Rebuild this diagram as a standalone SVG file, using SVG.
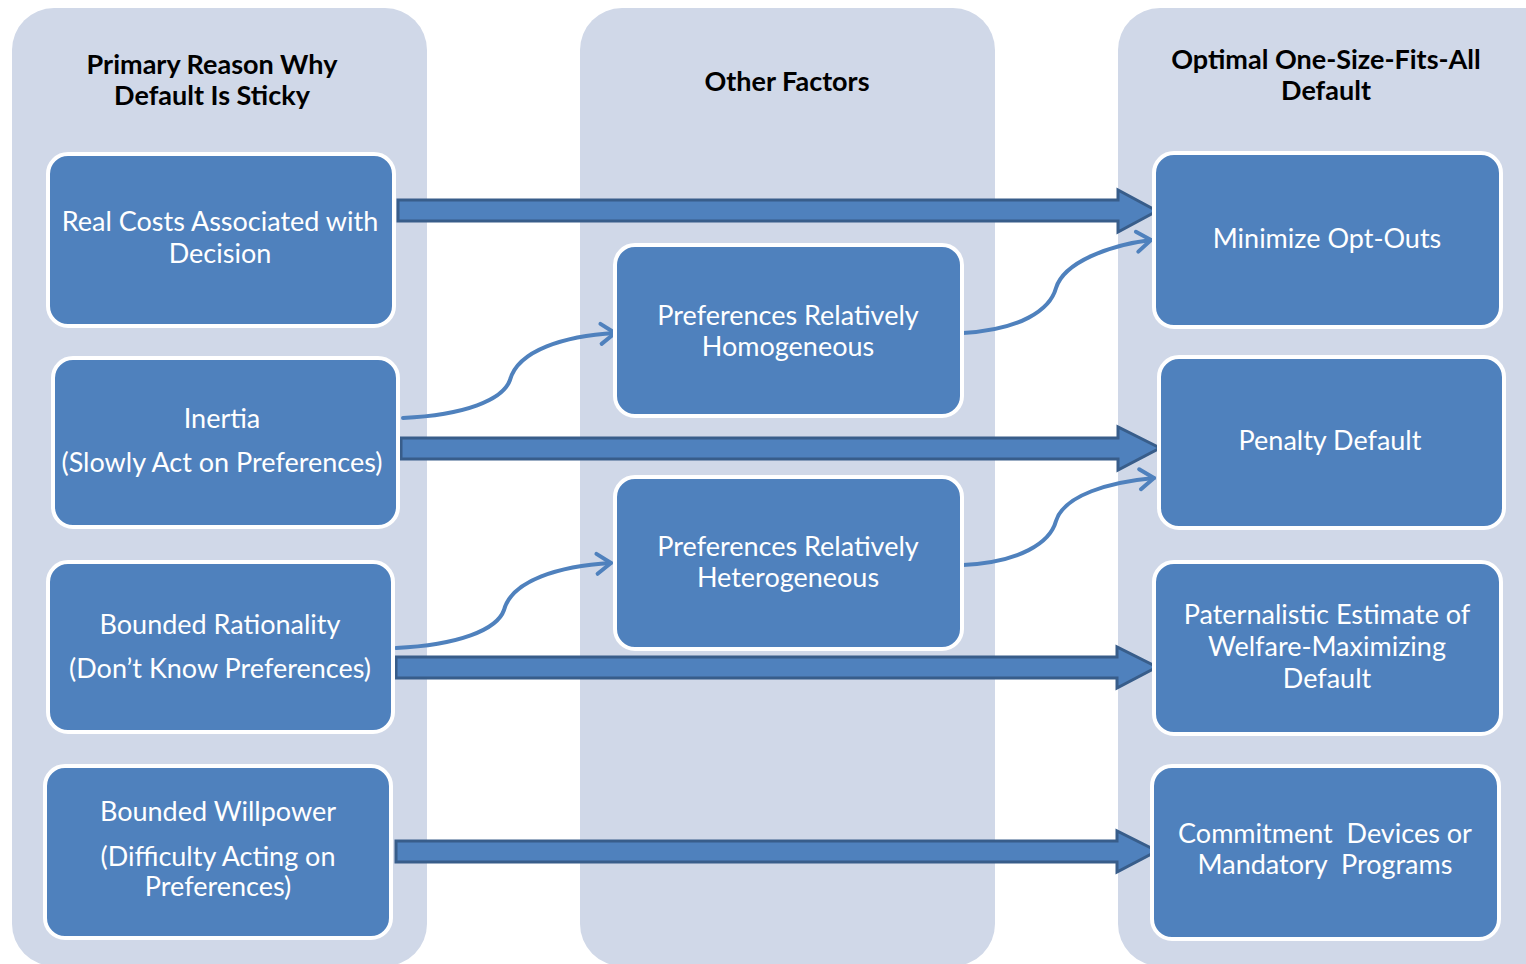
<svg xmlns="http://www.w3.org/2000/svg" width="1526" height="964" viewBox="0 0 1526 964">
<defs>
<style>
.col{fill:#D0D8E8;}
.box{fill:#4F81BD;stroke:#FFFFFF;stroke-width:4;}
.hdr{font-family:Lato,"Open Sans",sans-serif;font-weight:bold;font-size:27px;fill:#000;text-anchor:middle;}
.t{font-family:Lato,"Open Sans",sans-serif;font-size:27px;fill:#FFFFFF;text-anchor:middle;white-space:pre;}
.big{fill:#4F81BD;stroke:#385D8A;stroke-width:3;stroke-linejoin:miter;}
.cur{fill:none;stroke:#4F81BD;stroke-width:4;stroke-linecap:round;}
</style>
<marker id="chev" markerUnits="userSpaceOnUse" markerWidth="24" markerHeight="28" refX="18" refY="13" orient="auto" viewBox="0 0 24 26">
<path d="M4,3 L18,13 L4,23" fill="none" stroke="#4F81BD" stroke-width="4" stroke-linecap="round" stroke-linejoin="round"/>
</marker>
</defs>
<rect width="1526" height="964" fill="#FFFFFF"/>
<g id="columns">
<rect class="col" x="12" y="8" width="415" height="958" rx="42"/>
<rect class="col" x="580" y="8" width="415" height="958" rx="42"/>
<rect class="col" x="1118" y="8" width="450" height="958" rx="42"/>
<text class="hdr" x="212" y="74">Primary Reason Why</text>
<text class="hdr" x="212" y="105">Default Is Sticky</text>
<text class="hdr" x="787" y="91">Other Factors</text>
<text class="hdr" x="1326" y="69">Optimal One-Size-Fits-All</text>
<text class="hdr" x="1326" y="100">Default</text>
</g>
<g id="connectors">
<polygon class="big" points="398,200 1118,200 1118,190 1157,211 1118,232 1118,221 398,221"/>
<polygon class="big" points="401,438 1118,438 1118,427 1160,448 1118,470 1118,459 401,459"/>
<polygon class="big" points="396,657 1117,657 1117,647 1157,667 1117,688 1117,678 396,678"/>
<polygon class="big" points="396,841 1117,841 1117,831 1157,851 1117,872 1117,862 396,862"/>
<path class="cur" d="M403,418 C465,415 503,400 510,380 C518,350 565,336 615,333" marker-end="url(#chev)"/>
<path class="cur" d="M963,333 C1020,330 1050,310 1056,288 C1064,262 1110,245 1151,240" marker-end="url(#chev)"/>
<path class="cur" d="M396,648 C458,645 497,630 504,610 C512,580 560,566 611,563" marker-end="url(#chev)"/>
<path class="cur" d="M963,565 C1020,562 1050,543 1056,521 C1064,495 1110,482 1154,478" marker-end="url(#chev)"/>
</g>
<g id="n-realcosts">
<rect class="box" x="48" y="154" width="346" height="172" rx="20"/>
<text class="t" x="220" y="231">Real Costs Associated with</text>
<text class="t" x="220" y="263">Decision</text>
</g>
<g id="n-inertia">
<rect class="box" x="53" y="358" width="345" height="169" rx="20"/>
<text class="t" x="222" y="428">Inertia</text>
<text class="t" x="222" y="472">(Slowly Act on Preferences)</text>
</g>
<g id="n-bratio">
<rect class="box" x="48" y="562" width="345" height="170" rx="20"/>
<text class="t" x="220" y="634">Bounded Rationality</text>
<text class="t" x="220" y="678">(Don’t Know Preferences)</text>
</g>
<g id="n-bwill">
<rect class="box" x="45" y="766" width="346" height="172" rx="20"/>
<text class="t" x="218" y="821">Bounded Willpower</text>
<text class="t" x="218" y="866">(Difficulty Acting on</text>
<text class="t" x="218" y="896">Preferences)</text>
</g>
<g id="n-homog">
<rect class="box" x="615" y="245" width="347" height="171" rx="20"/>
<text class="t" x="788" y="325">Preferences Relatively</text>
<text class="t" x="788" y="356">Homogeneous</text>
</g>
<g id="n-heterog">
<rect class="box" x="615" y="477" width="347" height="172" rx="20"/>
<text class="t" x="788" y="556">Preferences Relatively</text>
<text class="t" x="788" y="587">Heterogeneous</text>
</g>
<g id="n-minimize">
<rect class="box" x="1154" y="153" width="347" height="174" rx="20"/>
<text class="t" x="1327" y="248">Minimize Opt-Outs</text>
</g>
<g id="n-penalty">
<rect class="box" x="1159" y="357" width="345" height="171" rx="20"/>
<text class="t" x="1330" y="450">Penalty Default</text>
</g>
<g id="n-paternal">
<rect class="box" x="1154" y="562" width="347" height="172" rx="20"/>
<text class="t" x="1327" y="624">Paternalistic Estimate of</text>
<text class="t" x="1327" y="656">Welfare-Maximizing</text>
<text class="t" x="1327" y="688">Default</text>
</g>
<g id="n-commit">
<rect class="box" x="1152" y="766" width="347" height="173" rx="20"/>
<text class="t" x="1325" y="843">Commitment  Devices or</text>
<text class="t" x="1325" y="874">Mandatory  Programs</text>
</g>
</svg>
